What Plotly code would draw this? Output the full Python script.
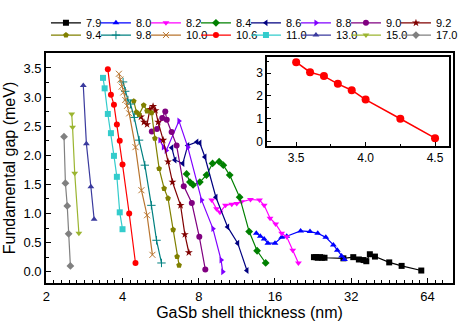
import plotly.graph_objects as go

# thickness (nm) and fundamental gap (meV), one pair of lists per core value
t79 = [22.8, 23.2, 23.6, 24.1, 24.5, 25.1, 29.8, 32.6, 34.3, 35.8, 36.7, 37.9, 39.7, 45.2, 50.6, 60.5]
g79 = [0.25, 0.25, 0.24, 0.25, 0.24, 0.24, 0.23, 0.25, 0.21, 0.20, 0.18, 0.30, 0.26, 0.16, 0.10, 0.02]
t80 = [13.5, 14.0, 14.5, 15.0, 16.0, 17.0, 17.8, 20.2, 22.0, 23.6, 25.4, 27.2, 28.2, 29.3, 30.1]
g80 = [0.66, 0.61, 0.56, 0.49, 0.49, 0.59, 0.61, 0.70, 0.69, 0.66, 0.59, 0.46, 0.37, 0.27, 0.21]
t82 = [9.0, 9.4, 9.7, 10.2, 10.8, 11.3, 11.8, 12.8, 13.9, 14.5, 15.3, 16.1, 17.0, 17.8, 18.8, 19.8]
g82 = [1.23, 1.08, 1.02, 1.14, 1.16, 1.17, 1.20, 1.24, 1.23, 1.14, 0.92, 0.82, 0.66, 0.60, 0.37, 0.15]
t84 = [7.16, 7.38, 7.6, 8.08, 8.58, 9.07, 9.63, 10.0, 10.6, 11.6, 12.65, 13.6, 14.7]
g84 = [1.68, 1.54, 1.49, 1.54, 1.66, 1.86, 1.89, 1.83, 1.66, 1.28, 0.69, 0.36, 0.15]
t86 = [6.26, 6.44, 6.92, 7.24, 7.86, 8.08, 8.46, 9.35, 10.4, 11.4, 12.4]
g86 = [2.13, 1.92, 1.86, 2.17, 2.23, 2.21, 1.97, 1.28, 0.77, 0.49, 0.02]
t88 = [5.62, 5.8, 5.95, 6.68, 7.24, 8.21, 9.1, 9.8, 9.95]
g88 = [2.26, 2.14, 2.08, 2.59, 2.14, 1.23, 0.74, 0.20, 0.0]
t90 = [5.22, 5.47, 5.74, 5.90, 5.98, 6.25, 6.54, 6.98, 7.51, 8.04, 8.49]
g90 = [2.41, 2.45, 2.64, 2.75, 2.61, 2.40, 2.17, 1.47, 1.18, 0.60, 0.04]
t92 = [4.73, 4.86, 5.0, 5.13, 5.28, 5.40, 5.53, 5.79, 6.05, 6.30, 6.78, 7.05, 7.31]
g92 = [2.66, 2.57, 2.53, 2.79, 2.84, 2.77, 2.57, 2.26, 1.89, 1.54, 1.14, 0.64, 0.33]
t94 = [4.43, 4.54, 4.65, 4.85, 5.0, 5.21, 5.37, 5.58, 5.84, 6.05, 6.34, 6.57, 6.69]
g94 = [2.93, 2.74, 2.70, 2.86, 2.76, 2.73, 2.29, 1.77, 1.43, 1.26, 0.72, 0.26, 0.11]
t98 = [4.02, 4.1, 4.2, 4.3, 4.45, 4.65, 4.9, 5.2, 5.45, 5.7]
g98 = [3.26, 3.1, 2.95, 2.88, 2.65, 2.26, 1.83, 1.14, 0.54, 0.15]
t100 = [3.87, 3.92, 3.97, 4.03, 4.1, 4.17, 4.25, 4.5, 4.75, 5.0, 5.25]
g100 = [3.40, 3.30, 3.18, 3.08, 2.95, 2.85, 2.72, 2.14, 1.40, 0.97, 0.29]
t106 = [3.5, 3.6, 3.7, 3.8, 3.9, 4.0, 4.25, 4.5]
g106 = [3.48, 3.04, 2.87, 2.53, 2.25, 1.84, 1.0, 0.15]
t110 = [3.35, 3.4, 3.5, 3.6, 3.7, 3.8, 3.9, 4.0]
g110 = [3.33, 3.15, 2.71, 2.38, 1.99, 1.63, 1.02, 0.73]
t130 = [2.8, 2.88, 3.0, 3.09]
g130 = [3.2, 2.2, 1.46, 0.9]
t150 = [2.52, 2.54, 2.59, 2.69]
g150 = [2.71, 2.48, 1.69, 0.66]
t170 = [2.35, 2.38, 2.42, 2.45, 2.49]
g170 = [2.32, 1.52, 1.13, 0.65, 0.10]

names = ["7.9", "8.0", "8.2", "8.4", "8.6", "8.8", "9.0", "9.2",
         "9.4", "9.8", "10.0", "10.6", "11.0", "13.0", "15.0", "17.0"]
xs = [t79, t80, t82, t84, t86, t88, t90, t92, t94, t98, t100, t106, t110, t130, t150, t170]
ys = [g79, g80, g82, g84, g86, g88, g90, g92, g94, g98, g100, g106, g110, g130, g150, g170]

colors = ["#000000", "#0000FF", "#FF00FF", "#008000", "#000080", "#8000FF", "#800080", "#800000",
          "#808000", "#008080", "#B8742E", "#FF0000", "#33CCCC", "#3A3A9E", "#9BB530", "#808080"]
symbols = ["square", "triangle-up", "triangle-down", "diamond", "triangle-left", "triangle-right",
           "circle", "star", "pentagon", "cross-thin", "x-thin", "circle", "square", "triangle-up",
           "triangle-down", "diamond"]

xticks = [2, 4, 8, 16, 32, 64]
xminor = [2 * 2 ** (k / 10) for k in range(1, 53) if k % 10]

font = "Liberation Sans, Arial, sans-serif"

fig = go.Figure()
for i, n in enumerate(names):
    thin = symbols[i] in ("cross-thin", "x-thin")
    fig.add_trace(go.Scatter(
        x=xs[i], y=ys[i], name=n, mode="lines+markers",
        legend="legend" if i < 8 else "legend2",
        # last entry of each legend row gets room for its label so it isn't clipped
        legendwidth=28 if i in (7, 15) else None,
        line=dict(color=colors[i], width=1.2),
        marker=dict(symbol=symbols[i], size=6, color=colors[i],
                    line=dict(color=colors[i], width=1 if thin else 0)),
    ))

# inset
fig.add_trace(go.Scatter(
    x=t106, y=g106, mode="lines+markers", showlegend=False,
    xaxis="x2", yaxis="y2",
    line=dict(color="#FF0000", width=1.5),
    marker=dict(symbol="circle", size=8, color="#FF0000"),
))

axis_common = dict(showgrid=False, zeroline=False, showline=True, linecolor="black",
                   mirror=True, ticks="inside", tickcolor="black", automargin=False,
                   tickfont=dict(family=font, size=13, color="black"))
inset_font = dict(family=font, size=12, color="black")
legend_common = dict(orientation="h", x=-0.0001, xanchor="left", yanchor="middle",
                     entrywidth=5, entrywidthmode="pixels", bgcolor="rgba(0,0,0,0)",
                     font=dict(family=font, size=11, color="black"), tracegroupgap=0)

fig.update_layout(
    width=463, height=323,
    margin=dict(l=46, r=10, t=53, b=40, autoexpand=False),
    paper_bgcolor="white", plot_bgcolor="white",
    font=dict(family=font, color="black"),
    xaxis=dict(type="log", range=[0.2999, 1.907], tickvals=xticks, ticktext=[str(v) for v in xticks],
               ticklen=5, linewidth=1.8,
               minor=dict(tickmode="array", tickvals=xminor, ticks="inside", ticklen=3, tickcolor="black"),
               title=dict(text="GaSb shell thickness (nm)", font=dict(family=font, size=16), standoff=4),
               **axis_common),
    yaxis=dict(range=[-0.194, 3.757], tickvals=[0, 0.5, 1, 1.5, 2, 2.5, 3, 3.5], tickformat=".1f",
               ticklen=5, linewidth=1.8,
               minor=dict(dtick=0.25, ticks="inside", ticklen=3, tickcolor="black"),
               title=dict(text="Fundamental gap (meV)", font=dict(family=font, size=16), standoff=4),
               **axis_common),
    xaxis2=dict(domain=[0.543, 0.990], anchor="y2", range=[3.29, 4.6],
                tickvals=[3.5, 4.0, 4.5], tickformat=".1f", ticklen=4, linewidth=1.5,
                minor=dict(dtick=0.25, ticks="inside", ticklen=2, tickcolor="black"),
                **{**axis_common, "tickfont": inset_font}),
    yaxis2=dict(domain=[0.595, 0.981], anchor="x2", range=[-0.2, 3.69],
                tickvals=[0, 1, 2, 3], ticklen=4, linewidth=1.5,
                minor=dict(dtick=0.5, ticks="inside", ticklen=2, tickcolor="black"),
                **{**axis_common, "tickfont": inset_font}),
    legend=dict(y=1.131, **legend_common),
    legend2=dict(y=1.078, **legend_common),
)

# drop the browser's default 8px body margin so the figure fills the window
fig.write_html("out.html", config={"displayModeBar": False},
               post_script="document.body.style.margin='0';")
